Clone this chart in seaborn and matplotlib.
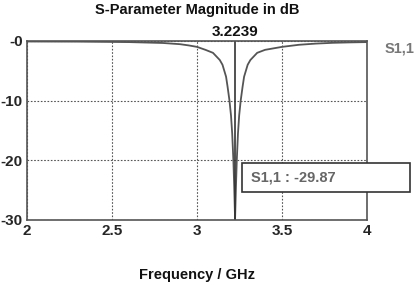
import pandas as pd
import seaborn as sns
import matplotlib.pyplot as plt
from matplotlib.patches import Rectangle
import matplotlib.transforms as mtransforms

# S1,1 magnitude (GHz, dB)
freq = [2.0, 2.3, 2.6, 2.8, 2.9, 2.95, 3.0, 3.05, 3.094, 3.134, 3.15, 3.171,
        3.180, 3.191, 3.200, 3.207, 3.214, 3.219, 3.2239, 3.229, 3.234, 3.241,
        3.248, 3.257, 3.268, 3.277, 3.298, 3.314, 3.354, 3.40, 3.5, 3.6, 3.7,
        3.8, 3.9, 4.0]
s11_db = [-0.1, -0.12, -0.2, -0.35, -0.55, -0.75, -1.0, -1.5, -2.0, -3.2, -4.0, -6.0,
          -7.7, -10.0, -12.5, -15.5, -20.0, -24.5, -29.87, -24.5, -20.0, -15.5,
          -12.5, -10.0, -7.7, -6.0, -4.0, -3.2, -2.0, -1.5, -1.0, -0.65, -0.45,
          -0.32, -0.25, -0.2]

x_ticks = [2, 2.5, 3, 3.5, 4]
x_tick_labels = ['2', '2.5', '3', '3.5', '4']
y_ticks = [0, -10, -20, -30]
y_tick_labels = ['-0', '-10', '-20', '-30']

marker_freq = 3.2239
marker_db = -29.87


def run():
    df = pd.DataFrame({'freq': freq, 'db': s11_db})

    sns.set_style("white")
    plt.rcParams['font.family'] = ['Liberation Sans', 'DejaVu Sans']
    plt.rcParams['font.weight'] = 'bold'

    fig = plt.figure(figsize=(4.2, 2.86), dpi=100)
    ax = fig.add_axes([0.064, 0.231, 0.81, 0.626])

    sns.lineplot(x='freq', y='db', data=df, ax=ax, color='#555555', linewidth=1.3)

    # marker line
    ax.axvline(marker_freq, color='#333333', linewidth=1.2)
    trans = mtransforms.blended_transform_factory(ax.transData, ax.transAxes)
    ax.text(marker_freq, 1.01, f'{marker_freq:.4f}', transform=trans,
            ha='center', va='bottom', fontsize=11, fontweight='bold', color='#111111')

    ax.set_xlim(2, 4)
    ax.set_ylim(-30, 0)
    ax.set_xticks(x_ticks)
    ax.set_xticklabels(x_tick_labels)
    ax.set_yticks(y_ticks)
    ax.set_yticklabels(y_tick_labels)
    ax.tick_params(axis='both', labelsize=11, length=2, color='#444444', pad=1)
    for lab in ax.get_xticklabels() + ax.get_yticklabels():
        lab.set_fontweight('bold')

    ax.grid(True, linestyle=(0, (1.5, 1.5)), color='#555555', linewidth=0.8)
    for side in ['left', 'bottom', 'top', 'right']:
        ax.spines[side].set_color('#555555')
        ax.spines[side].set_linewidth(1.2)

    ax.set_xlabel('')
    ax.set_ylabel('')
    fig.text(0.469, 0.965, 'S-Parameter Magnitude in dB', ha='center', va='center',
             fontsize=10.5, fontweight='bold', color='#111111')
    fig.text(0.469, 0.04, 'Frequency / GHz', ha='center', va='center',
             fontsize=10.5, fontweight='bold', color='#111111')

    # legend-like label at right
    fig.text(0.915, 0.832, 'S1,1', ha='left', va='center',
             fontsize=10.5, fontweight='bold', color='#777777')

    # value box
    box = Rectangle((242 / 420, 1 - 192 / 286), (410 - 242) / 420, 29 / 286,
                    transform=fig.transFigure, fill=True, facecolor='white',
                    edgecolor='#333333', linewidth=1.2, clip_on=False)
    fig.add_artist(box)
    fig.text(251 / 420, 1 - 177 / 286, f'S1,1 : {marker_db:.2f}', ha='left', va='center',
             fontsize=10.5, fontweight='bold', color='#666666')

    fig.savefig('out.png', dpi=100)
    plt.close(fig)


if __name__ == "__main__":
    run()
